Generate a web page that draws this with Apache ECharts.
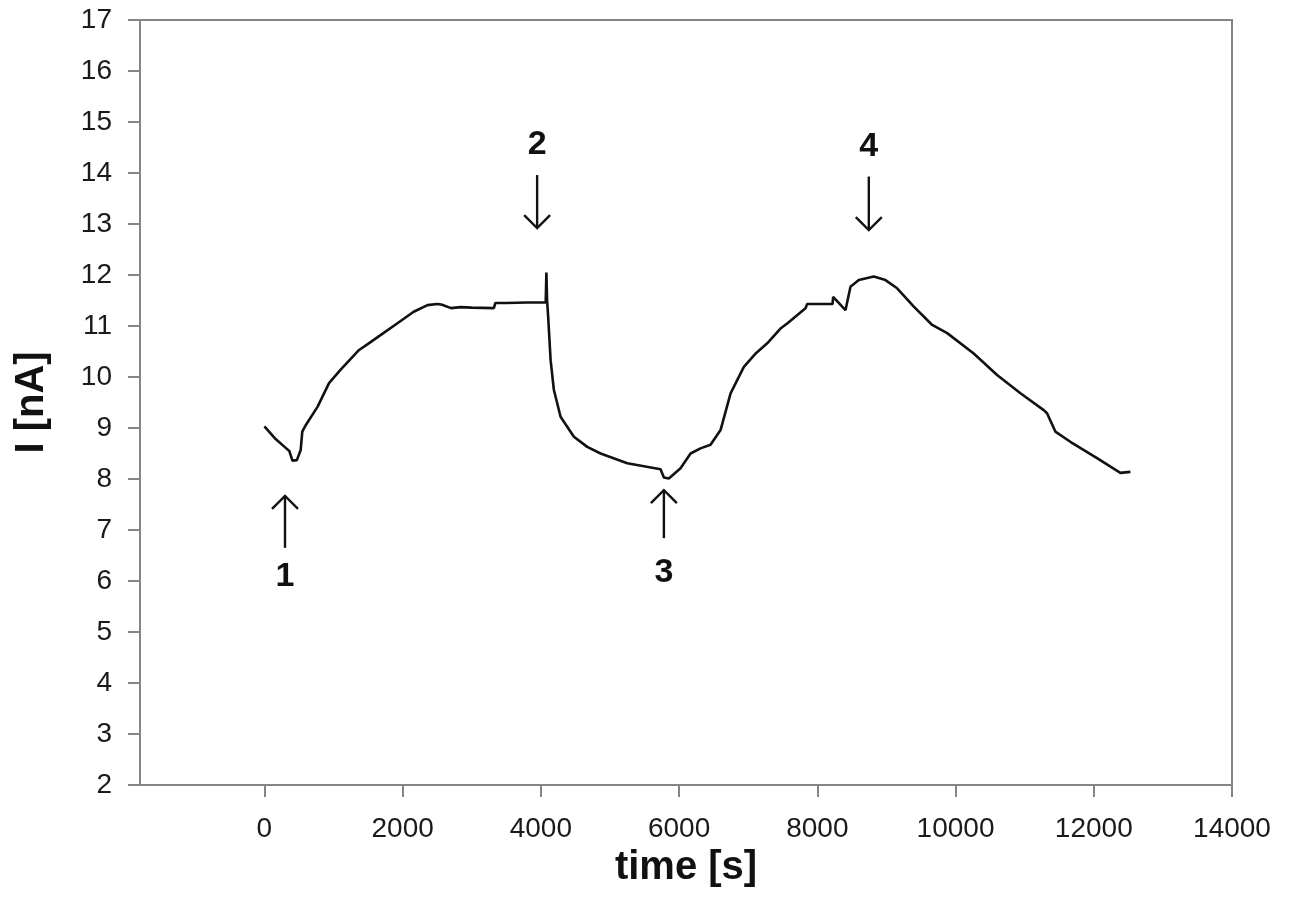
<!DOCTYPE html>
<html>
<head>
<meta charset="utf-8">
<script src="https://cdn.jsdelivr.net/npm/echarts@6/dist/echarts.min.js"></script>
<style>
html,body{margin:0;padding:0;background:#fff;}
#chart{width:1290px;height:924px;}
</style>
</head>
<body>
<div id="chart"></div>
<script>
// time [s]
const timeValues = [0, 150, 300, 360, 405, 470, 525, 548, 600, 770, 935, 1100, 1370, 1500, 1680, 1920, 2160, 2360, 2500, 2560, 2700, 2840, 3000, 3320, 3340, 3500, 3800, 4070, 4080, 4090, 4105, 4119, 4141, 4188, 4285, 4478, 4671, 4864, 5250, 5732, 5780, 5852, 6021, 6166, 6310, 6455, 6600, 6745, 6937, 7100, 7275, 7467, 7564, 7829, 7853, 8220, 8229, 8407, 8480, 8600, 8817, 8986, 9155, 9396, 9662, 9879, 10263, 10601, 10939, 11276, 11324, 11444, 11661, 12047, 12385, 12530];
// current I [nA]
const currentValues = [9.03, 8.80, 8.62, 8.55, 8.36, 8.37, 8.57, 8.93, 9.06, 9.42, 9.88, 10.14, 10.53, 10.65, 10.82, 11.05, 11.28, 11.41, 11.43, 11.42, 11.35, 11.37, 11.36, 11.35, 11.45, 11.45, 11.46, 11.46, 12.05, 11.50, 11.20, 10.86, 10.33, 9.75, 9.22, 8.83, 8.63, 8.50, 8.31, 8.19, 8.03, 8.01, 8.21, 8.50, 8.60, 8.67, 8.96, 9.68, 10.20, 10.45, 10.66, 10.95, 11.05, 11.35, 11.43, 11.43, 11.57, 11.31, 11.77, 11.90, 11.97, 11.90, 11.74, 11.38, 11.02, 10.86, 10.46, 10.04, 9.68, 9.35, 9.29, 8.93, 8.73, 8.41, 8.12, 8.14];

const xTickValues = [0, 2000, 4000, 6000, 8000, 10000, 12000, 14000];

// annotation arrows: label, time, tail value, tip value, label value
const arrowLabels = ['1', '2', '3', '4'];
const arrowTimes = [298, 3946, 5780, 8745];
const arrowTails = [6.65, 13.96, 6.84, 13.93];
const arrowTips = [7.67, 12.92, 7.78, 12.88];
const arrowLabelValues = [6.08, 14.55, 6.16, 14.51];

const FONT = '"Liberation Sans", Arial, sans-serif';
const AXIS_GRAY = '#858585';

const chart = echarts.init(document.getElementById('chart'), null, {renderer: 'canvas'});

const lineData = timeValues.map((t, i) => [t, currentValues[i]]);

chart.setOption({
  animation: false,
  backgroundColor: '#ffffff',
  grid: {
    left: 140, right: 58, top: 20, bottom: 139,
    outerBoundsMode: 'none',
    containLabel: false,
    show: true, borderColor: AXIS_GRAY, borderWidth: 2, backgroundColor: 'transparent'
  },
  xAxis: {
    type: 'value',
    min: -1800, max: 14000,
    name: 'time [s]',
    nameLocation: 'middle',
    nameGap: 63,
    nameMoveOverlap: false,
    nameTextStyle: {fontFamily: FONT, fontSize: 40, fontWeight: 'bold', color: '#111'},
    axisLine: {show: true, onZero: false, lineStyle: {color: AXIS_GRAY, width: 2}},
    axisTick: {show: true, inside: false, length: 12, lineStyle: {color: AXIS_GRAY, width: 2}, customValues: xTickValues},
    axisLabel: {fontFamily: FONT, fontSize: 28, color: '#1a1a1a', margin: 30, customValues: xTickValues,
      formatter: v => String(v)},
    splitLine: {show: false}
  },
  yAxis: {
    type: 'value',
    min: 2, max: 17, interval: 1,
    name: 'I [nA]',
    nameLocation: 'middle',
    nameGap: 88,
    nameMoveOverlap: false,
    nameRotate: 90,
    nameTextStyle: {fontFamily: FONT, fontSize: 40, fontWeight: 'bold', color: '#111'},
    axisLine: {show: true, onZero: false, lineStyle: {color: AXIS_GRAY, width: 2}},
    axisTick: {show: true, inside: false, length: 12, lineStyle: {color: AXIS_GRAY, width: 2}},
    axisLabel: {fontFamily: FONT, fontSize: 28, color: '#1a1a1a', margin: 28, formatter: v => String(v)},
    splitLine: {show: false}
  },
  series: [{
    type: 'line',
    data: lineData,
    showSymbol: false,
    symbol: 'none',
    smooth: false,
    lineStyle: {color: '#111', width: 2.6},
    silent: true
  }]
});

// Draw annotation arrows through the chart's own coordinate conversion
const graphics = [];
arrowLabels.forEach((lab, i) => {
  const tail = chart.convertToPixel({gridIndex: 0}, [arrowTimes[i], arrowTails[i]]);
  const tip = chart.convertToPixel({gridIndex: 0}, [arrowTimes[i], arrowTips[i]]);
  const lp = chart.convertToPixel({gridIndex: 0}, [arrowTimes[i], arrowLabelValues[i]]);
  const dir = tip[1] < tail[1] ? 1 : -1; // 1 = up arrow
  graphics.push({
    type: 'polyline',
    shape: {points: [tail, tip]},
    style: {stroke: '#111', lineWidth: 2.4, fill: null}
  });
  graphics.push({
    type: 'polyline',
    shape: {points: [[tip[0] - 13, tip[1] + dir * 13], tip, [tip[0] + 13, tip[1] + dir * 13]]},
    style: {stroke: '#111', lineWidth: 2.4, fill: null}
  });
  graphics.push({
    type: 'text',
    x: lp[0], y: lp[1],
    style: {text: lab, font: 'bold 34px ' + FONT, fill: '#111', textAlign: 'center', textVerticalAlign: 'middle'}
  });
});
chart.setOption({graphic: graphics});
</script>
</body>
</html>
